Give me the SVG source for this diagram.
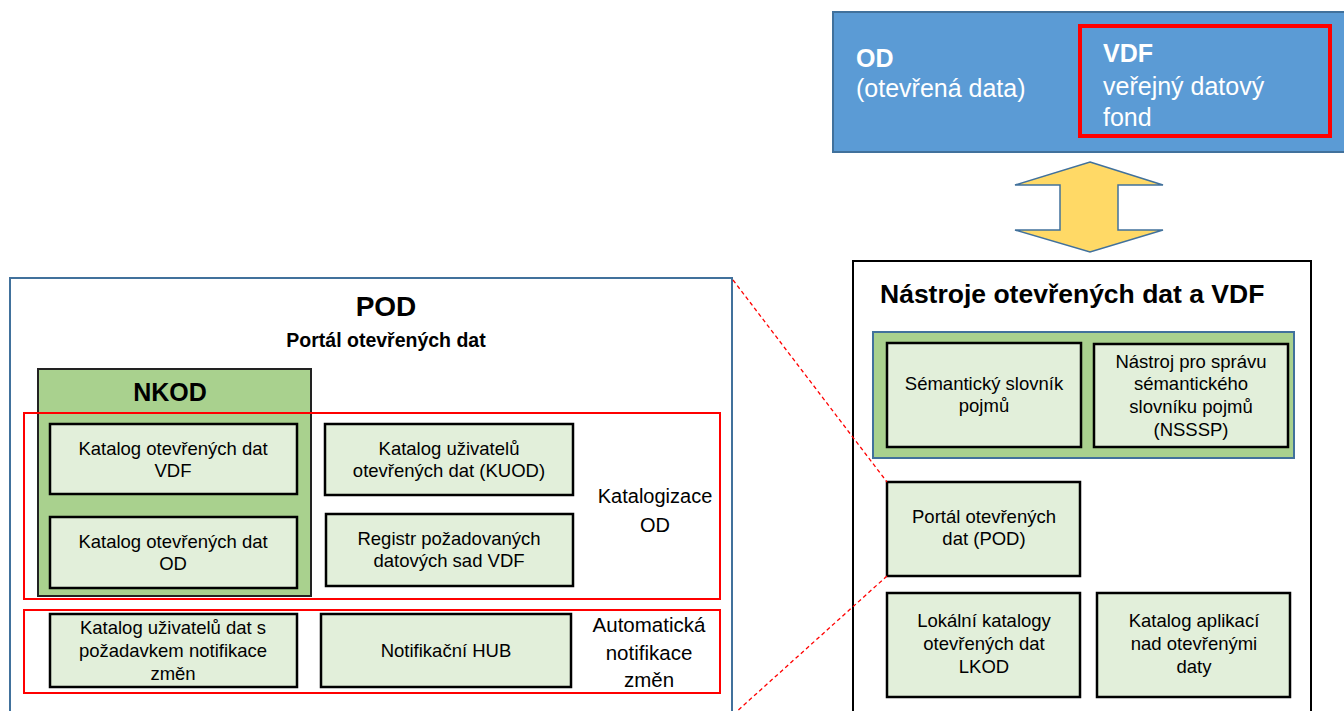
<svg xmlns="http://www.w3.org/2000/svg" width="1344" height="711" viewBox="0 0 1344 711">
<style>
text{font-family:"Liberation Sans",Arial,sans-serif;fill:#000}
.n{fill:#E2EFDA;stroke:#000;stroke-width:2.5}
.t{font-size:18.5px;text-anchor:middle}
.g{fill:#A9D18E}
.red{fill:none;stroke:#FF0000;stroke-width:2}
.w{fill:#fff;font-size:25px}
.b{font-weight:bold}
.c{fill:none;stroke:#FF0000;stroke-width:1.3;stroke-dasharray:4,3}
</style>
<rect width="1344" height="711" fill="#fff"/>
<g id="od-vdf">
<rect x="833" y="12" width="520" height="140" fill="#5B9BD5" stroke="#41719C" stroke-width="2"/>
<rect x="1080" y="26" width="250" height="110" fill="none" stroke="#FF0000" stroke-width="4"/>
<text class="w b" x="856" y="67">OD</text>
<text class="w" x="856" y="97">(otevřená data)</text>
<text class="w b" x="1103" y="62">VDF</text>
<text class="w" x="1103" y="95">veřejný datový</text>
<text class="w" x="1103" y="126">fond</text>
</g>
<g id="double-arrow">
<polygon points="1090,162 1163,185 1118,185 1118,230 1163,230 1090,252 1015,230 1060,230 1060,185 1015,185" fill="#FFD966" stroke="#41719C" stroke-width="1.5"/>
</g>
<g id="nastroje">
<rect x="853" y="261" width="458" height="470" fill="#fff" stroke="#000" stroke-width="2"/>
<text class="b" x="880" y="303" font-size="26.5">Nástroje otevřených dat a VDF</text>
</g>
<g id="semantic-group">
<rect x="873" y="332" width="421" height="126" class="g" stroke="#41719C" stroke-width="2"/>
</g>
<g id="semanticky">
<rect class="n" x="887" y="343" width="194" height="104"/>
<text class="t" x="984" y="390">Sémantický slovník</text>
<text class="t" x="984" y="412">pojmů</text>
</g>
<g id="nsssp">
<rect class="n" x="1094" y="344" width="194" height="103"/>
<text class="t" x="1191" y="368">Nástroj pro správu</text>
<text class="t" x="1191" y="390">sémantického</text>
<text class="t" x="1191" y="413">slovníku pojmů</text>
<text class="t" x="1191" y="436">(NSSSP)</text>
</g>
<g id="portal">
<rect class="n" x="887" y="482" width="193" height="94"/>
<text class="t" x="984" y="523">Portál otevřených</text>
<text class="t" x="984" y="545">dat (POD)</text>
</g>
<g id="lkod">
<rect class="n" x="887" y="593" width="193" height="104"/>
<text class="t" x="984" y="627">Lokální katalogy</text>
<text class="t" x="984" y="650">otevřených dat</text>
<text class="t" x="984" y="673">LKOD</text>
</g>
<g id="aplikace">
<rect class="n" x="1097" y="593" width="193" height="104"/>
<text class="t" x="1194" y="627">Katalog aplikací</text>
<text class="t" x="1194" y="650">nad otevřenými</text>
<text class="t" x="1194" y="673">daty</text>
</g>
<g id="pod">
<rect x="10" y="278" width="722" height="450" fill="#fff" stroke="#41719C" stroke-width="2"/>
<text class="b" x="386" y="316" font-size="28" text-anchor="middle">POD</text>
<text class="b" x="386" y="347" font-size="19.5" text-anchor="middle">Portál otevřených dat</text>
</g>
<g id="nkod">
<rect x="38" y="369" width="273" height="227" class="g" stroke="#222" stroke-width="2"/>
<text class="b" x="170" y="401" font-size="25" text-anchor="middle">NKOD</text>
</g>
<g id="katalogizace">
<rect class="red" x="24" y="413" width="696" height="186"/>
<text x="655" y="503" font-size="20" text-anchor="middle">Katalogizace</text>
<text x="655" y="532" font-size="20" text-anchor="middle">OD</text>
</g>
<g id="automaticka">
<rect class="red" x="24" y="610" width="696" height="83"/>
<text x="649" y="632" font-size="20.5" text-anchor="middle">Automatická</text>
<text x="649" y="660" font-size="20.5" text-anchor="middle">notifikace</text>
<text x="649" y="687" font-size="20.5" text-anchor="middle">změn</text>
</g>
<g id="katalog-vdf">
<rect class="n" x="50" y="424" width="247" height="70"/>
<text class="t" x="173" y="455">Katalog otevřených dat</text>
<text class="t" x="173" y="477">VDF</text>
</g>
<g id="katalog-od">
<rect class="n" x="50" y="517" width="247" height="71"/>
<text class="t" x="173" y="548">Katalog otevřených dat</text>
<text class="t" x="173" y="570">OD</text>
</g>
<g id="kuod">
<rect class="n" x="325" y="424" width="248" height="71"/>
<text class="t" x="449" y="455">Katalog uživatelů</text>
<text class="t" x="449" y="477">otevřených dat (KUOD)</text>
</g>
<g id="registr">
<rect class="n" x="326" y="514" width="247" height="72"/>
<text class="t" x="449" y="545">Registr požadovaných</text>
<text class="t" x="449" y="567">datových sad VDF</text>
</g>
<g id="katalog-notifikace">
<rect class="n" x="50" y="614" width="247" height="73"/>
<text class="t" x="173" y="634">Katalog uživatelů dat s</text>
<text class="t" x="173" y="657">požadavkem notifikace</text>
<text class="t" x="173" y="680">změn</text>
</g>
<g id="hub">
<rect class="n" x="321" y="614" width="250" height="73"/>
<text class="t" x="446" y="657">Notifikační HUB</text>
</g>
<g id="connectors">
<line class="c" x1="733" y1="280" x2="887" y2="482"/>
<line class="c" x1="887" y1="576" x2="735" y2="713"/>
</g>
</svg>
